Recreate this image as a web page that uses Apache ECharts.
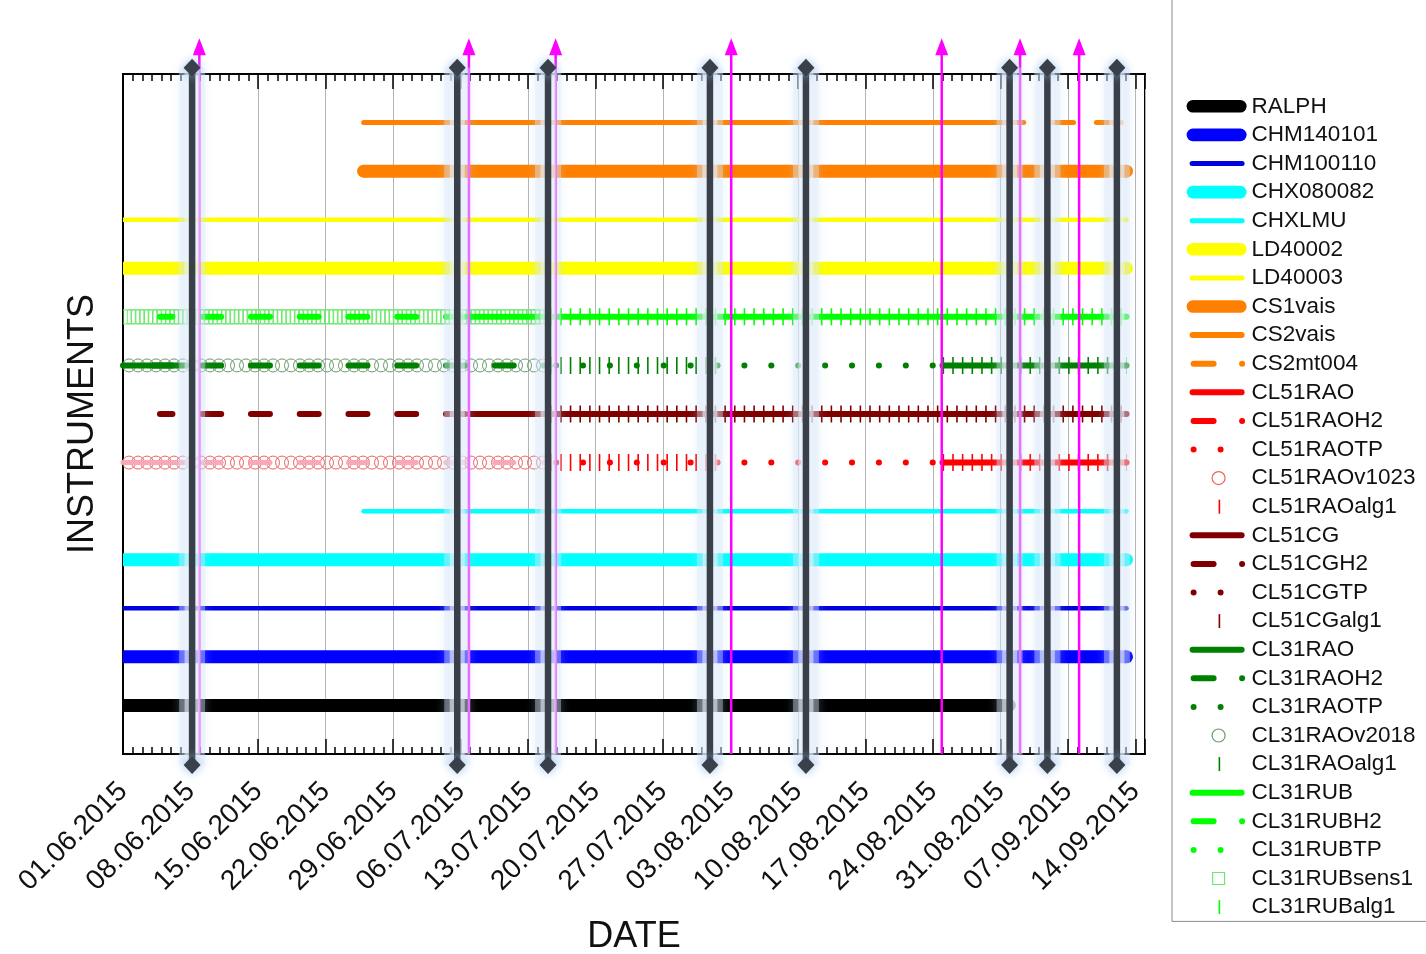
<!DOCTYPE html>
<html>
<head>
<meta charset="utf-8">
<script src="https://cdn.jsdelivr.net/npm/echarts/dist/echarts.min.js"></script>
<style>html,body{margin:0;padding:0;background:#fff}#c{width:1426px;height:954px}</style>
</head>
<body>
<div id="c"></div>
<script>
// ---------------- DATA ----------------
const xMinDate = '2015-06-01 00:00';
const xMaxDate = '2015-09-15 00:00';
const tickLabels = ['01.06.2015','08.06.2015','15.06.2015','22.06.2015','29.06.2015','06.07.2015','13.07.2015',
  '20.07.2015','27.07.2015','03.08.2015','10.08.2015','17.08.2015','24.08.2015','31.08.2015','07.09.2015','14.09.2015'];
// instrument rows, bottom to top
const rows = ['RALPH','CHM140101','CHM100110','CHX080082','CHXLMU','CL51RAO','CL51CG','CL31RAO','CL31RUB',
  'LD40002','LD40003','CS1vais','CS2vais'];
const legendNames = ['RALPH','CHM140101','CHM100110','CHX080082','CHXLMU','LD40002','LD40003','CS1vais','CS2vais',
  'CS2mt004','CL51RAO','CL51RAOH2','CL51RAOTP','CL51RAOv1023','CL51RAOalg1','CL51CG','CL51CGH2','CL51CGTP',
  'CL51CGalg1','CL31RAO','CL31RAOH2','CL31RAOTP','CL31RAOv2018','CL31RAOalg1','CL31RUB','CL31RUBH2','CL31RUBTP',
  'CL31RUBsens1','CL31RUBalg1'];

// availability periods [start, end]
const pRALPH        = [['2015-06-01 00:00','2015-08-31 22:00']];
const pCHM140101    = [['2015-06-01 00:00','2015-09-13 02:00']];
const pCHM100110    = [['2015-06-01 00:00','2015-09-13 02:00']];
const pCHX080082    = [['2015-06-01 00:00','2015-09-13 02:00']];
const pCHXLMU       = [['2015-06-25 23:00','2015-09-13 02:00']];
const pLD40002      = [['2015-06-01 00:00','2015-09-13 02:00']];
const pLD40003      = [['2015-06-01 00:00','2015-09-13 02:00']];
const pCS1vais      = [['2015-06-25 23:00','2015-09-13 02:00']];
const pCS2vais      = [['2015-06-25 23:00','2015-09-02 10:00']];
const pCS2mt004     = [['2015-09-05 10:00','2015-09-07 14:00'],['2015-09-09 23:00','2015-09-12 13:00']];
const pCL51RAO      = [['2015-08-25 00:00','2015-09-13 02:00']];
const pCL51RAOH2a   = [['2015-06-01 00:00','2015-06-07 14:00']];
const pCL51RAOH2    = [['2015-06-01 00:00','2015-07-15 06:00']];
const pCL51RAOTP    = [['2015-07-15 22:00','2015-08-25 00:00']];
const pCL51RAOv1023 = [['2015-06-01 00:00','2015-07-15 06:00']];
const pCL51RAOalg1  = [['2015-07-15 08:00','2015-08-01 19:00'],['2015-08-25 00:00','2015-09-13 02:00']];
const pCL51CG       = [['2015-07-06 22:00','2015-09-13 02:00']];
const pCL51CGH2     = [['2015-06-04 20:00','2015-07-06 22:00']];
const pCL51CGTP     = [];
const pCL51CGalg1   = [['2015-07-15 08:00','2015-09-13 02:00']];
const pCL31RAO      = [['2015-06-01 00:00','2015-06-07 14:00'],['2015-08-25 00:00','2015-09-13 02:00']];
const pCL31RAOH2    = [['2015-06-01 00:00','2015-07-15 06:00']];
const pCL31RAOTP    = [['2015-07-15 22:00','2015-08-25 00:00']];
const pCL31RAOv2018 = [['2015-06-01 00:00','2015-07-15 06:00']];
const pCL31RAOalg1  = [['2015-07-15 08:00','2015-08-01 19:00'],['2015-08-25 00:00','2015-09-13 02:00']];
const pCL31RUB      = [['2015-07-06 22:00','2015-09-13 02:00']];
const pCL31RUBH2    = [['2015-06-04 20:00','2015-07-06 22:00']];
const pCL31RUBTP    = [];
const pCL31RUBsens1 = [['2015-06-01 00:00','2015-07-15 06:00']];
const pCL31RUBalg1  = [['2015-07-15 08:00','2015-09-13 02:00']];

// event markers
const eventDates = ['2015-06-08 04:00','2015-07-05 16:00','2015-07-15 02:00','2015-07-31 21:00',
  '2015-08-10 20:00','2015-08-31 23:00','2015-09-04 21:00','2015-09-12 02:00'];
const arrowDates = ['2015-06-08 22:00','2015-07-06 21:00','2015-07-15 21:00','2015-08-03 02:00',
  '2015-08-24 22:00','2015-09-02 01:00','2015-09-08 04:00'];

// ---------------- HELPERS ----------------
const FONT = "'Liberation Sans', Arial, Helvetica, sans-serif";
const BASE = Date.parse(xMinDate.replace(' ', 'T') + ':00Z');
const toDay = s => (Date.parse(s.replace(' ', 'T') + ':00Z') - BASE) / 864e5;
const rowOf = n => rows.indexOf(n) + 1;
const Y_MAX = rows.length + 1;

const C = {
  black:'#000000', blue:'#0000ff', blue2:'#0000e0', cyan:'#00ffff', yellow:'#ffff00', orange:'#ff8000',
  red:'#ff0000', dred:'#800000', green:'#008000', lime:'#00ff00', pink:'#f7a9ba',
  cRed:'#ee6262', cGreen:'#6a9a6a', sGreen:'#6ee86e'
};
const THICK = 13, THIN = 4.5, MID = 6;

const S = [];
function addLine(name, periods, rowName, ls) {
  const r = rowOf(rowName);
  if (!periods.length) { S.push({type:'line', name, data:[], color: ls.color, silent:true}); return; }
  const isSolid = ls.type === 'solid';
  periods.forEach(p => S.push({
    type:'line', name, silent:true, animation:false, z:2, color: ls.color,
    data:[[toDay(p[0]), r], [toDay(p[1]), r]],
    // solid bars: flat at the plot frame, rounded at free ends
    showSymbol: isSolid,
    symbol: isSolid ? ((v, prm) => (prm.dataIndex === 0 && v[0] <= 0) ? 'none' : 'circle') : 'none',
    symbolSize: ls.width,
    itemStyle:{color: ls.color, borderWidth:0},
    lineStyle: Object.assign({cap: isSolid ? 'butt' : 'round', join:'round'}, ls),
    emphasis:{disabled:true}
  }));
}
function addPattern(name, periods, rowName, kind, color) {
  const r = rowOf(rowName);
  S.push({
    type:'custom', name, silent:true, animation:false, z:2, clip:true, color,
    data: periods.map(p => [toDay(p[0]), toDay(p[1]), r]),
    encode:{x:[0,1], y:2},
    renderItem: function (params, api) {
      const a = api.coord([api.value(0), api.value(2)]);
      const b = api.coord([api.value(1), api.value(2)]);
      const ch = [];
      if (kind === 'circle') {
        for (let x = a[0] + 6; x <= b[0] - 2; x += 9)
          ch.push({type:'circle', shape:{cx:x, cy:a[1], r:6.5}, style:{fill:'none', stroke:color, lineWidth:1}});
      } else {
        for (let x = a[0]; x <= b[0] - 8; x += 4.3)
          ch.push({type:'rect', shape:{x:x, y:a[1]-7, width:8, height:14}, style:{fill:'none', stroke:color, lineWidth:1}});
      }
      return {type:'group', children:ch};
    }
  });
}
const solid = (c, w) => ({color:c, width:w, type:'solid'});
const dashH2 = (c, w, off) => ({color:c, width:w, type:[19, 29.75], dashOffset:off});
const dotTP = c => ({color:c, width:6, type:[0.1, 26.8], dashOffset:0});
const bars = c => ({color:c, width:17, type:[1.6, 8.06], cap:'butt'});

// ---------------- SERIES ----------------
addLine('RALPH', pRALPH, 'RALPH', solid(C.black, THICK));
addLine('CHM140101', pCHM140101, 'CHM140101', solid(C.blue, THICK));
addLine('CHM100110', pCHM100110, 'CHM100110', solid(C.blue2, THIN));
addLine('CHX080082', pCHX080082, 'CHX080082', solid(C.cyan, THICK));
addLine('CHXLMU', pCHXLMU, 'CHXLMU', solid(C.cyan, THIN));
addLine('LD40002', pLD40002, 'LD40002', solid(C.yellow, THICK));
addLine('LD40003', pLD40003, 'LD40003', solid(C.yellow, THIN));
addLine('CS1vais', pCS1vais, 'CS1vais', solid(C.orange, THICK));
addLine('CS2vais', pCS2vais, 'CS2vais', solid(C.orange, 5));
addLine('CS2mt004', pCS2mt004, 'CS2vais', solid(C.orange, 5));

// CL51RAO row
addPattern('CL51RAOv1023', pCL51RAOv1023, 'CL51RAO', 'circle', C.cRed);
addLine('CL51RAOH2', pCL51RAOH2a, 'CL51RAO', solid(C.pink, 5));
addLine('CL51RAOH2', pCL51RAOH2, 'CL51RAO', dashH2(C.pink, 5, 18.25));
addLine('CL51RAO', pCL51RAO, 'CL51RAO', solid(C.red, MID));
addLine('CL51RAOalg1', pCL51RAOalg1, 'CL51RAO', bars(C.red));
addLine('CL51RAOTP', pCL51RAOTP, 'CL51RAO', dotTP(C.red));

// CL51CG row
addLine('CL51CGH2', pCL51CGH2, 'CL51CG', dashH2(C.dred, MID, 6.5));
addLine('CL51CG', pCL51CG, 'CL51CG', solid(C.dred, MID));
addLine('CL51CGalg1', pCL51CGalg1, 'CL51CG', bars(C.dred));
addLine('CL51CGTP', pCL51CGTP, 'CL51CG', dotTP(C.dred));

// CL31RAO row
addPattern('CL31RAOv2018', pCL31RAOv2018, 'CL31RAO', 'circle', C.cGreen);
addLine('CL31RAOH2', pCL31RAOH2, 'CL31RAO', dashH2(C.green, MID, 18.25));
addLine('CL31RAO', pCL31RAO, 'CL31RAO', solid(C.green, MID));
addLine('CL31RAOalg1', pCL31RAOalg1, 'CL31RAO', bars(C.green));
addLine('CL31RAOTP', pCL31RAOTP, 'CL31RAO', dotTP(C.green));

// CL31RUB row
addPattern('CL31RUBsens1', pCL31RUBsens1, 'CL31RUB', 'square', C.sGreen);
addLine('CL31RUBH2', pCL31RUBH2, 'CL31RUB', dashH2(C.lime, MID, 6.5));
addLine('CL31RUB', pCL31RUB, 'CL31RUB', solid(C.lime, MID));
addLine('CL31RUBalg1', pCL31RUBalg1, 'CL31RUB', bars(C.lime));
addLine('CL31RUBTP', pCL31RUBTP, 'CL31RUB', dotTP(C.lime));

// event lines (extend slightly beyond the plot frame)
const EVT_LO = -0.226, EVT_HI = Y_MAX + 0.13, ARROW_HI = Y_MAX + 0.56;
arrowDates.forEach(d => {
  const x = toDay(d);
  S.push({type:'line', silent:true, animation:false, clip:false, z:5, data:[[x, 0], [x, ARROW_HI]],
    showSymbol:true, symbol:(v, p) => p.dataIndex === 1 ? 'triangle' : 'none', symbolSize:[13, 17],
    itemStyle:{color:'#ff00ff', borderWidth:0}, lineStyle:{color:'#ff00ff', width:2.5}, emphasis:{disabled:true}});
});
eventDates.forEach(d => {
  const x = toDay(d);
  S.push({type:'line', silent:true, animation:false, clip:false, z:6, data:[[x, EVT_LO], [x, EVT_HI]],
    showSymbol:false, symbol:'none',
    lineStyle:{color:'rgba(222,234,250,0.38)', width:26, cap:'butt', shadowBlur:10, shadowColor:'rgba(185,212,245,0.7)'},
    emphasis:{disabled:true}});
  S.push({type:'line', silent:true, animation:false, clip:false, z:6, data:[[x, EVT_LO], [x, EVT_HI]],
    showSymbol:false, symbol:'none',
    lineStyle:{color:'rgba(236,243,252,0.55)', width:15, cap:'butt'},
    emphasis:{disabled:true}});
  S.push({type:'line', silent:true, animation:false, clip:false, z:7, data:[[x, EVT_LO], [x, EVT_HI]],
    showSymbol:true, symbol:'diamond', symbolSize:[17, 18],
    itemStyle:{color:'#3a4049', borderWidth:0, shadowBlur:10, shadowColor:'rgba(150,190,240,0.9)'},
    lineStyle:{color:'#3a4049', width:6.5, cap:'butt'}, emphasis:{disabled:true}});
});

// ---------------- LEGEND ICONS ----------------
const P = s => 'path://M0 0M60 14' + s;
const capsule = (x1, x2, h) => { const r = h / 2, y1 = 7 - r, y2 = 7 + r;
  return `M${x1 + r} ${y1}L${x2 - r} ${y1}A${r} ${r} 0 0 1 ${x2 - r} ${y2}L${x1 + r} ${y2}A${r} ${r} 0 0 1 ${x1 + r} ${y1}Z`; };
const dot = (cx, r) => `M${cx + r} 7A${r} ${r} 0 1 1 ${cx - r} 7A${r} ${r} 0 1 1 ${cx + r} 7Z`;
const fillI = (path, c) => ({icon: P(path), itemStyle:{color:c, borderWidth:0}});
const openI = (path, c) => ({icon: P(path), itemStyle:{color:'rgba(0,0,0,0)', borderColor:c, borderWidth:1.2}});
const iconSpec = {
  RALPH: fillI(capsule(0, 62, 13), C.black),
  CHM140101: fillI(capsule(0, 62, 13), C.blue),
  CHM100110: fillI(capsule(3, 58, 5), C.blue2),
  CHX080082: fillI(capsule(0, 62, 13), C.cyan),
  CHXLMU: fillI(capsule(3, 58, 5), C.cyan),
  LD40002: fillI(capsule(0, 62, 13), C.yellow),
  LD40003: fillI(capsule(3, 58, 5), C.yellow),
  CS1vais: fillI(capsule(0, 62, 13), C.orange),
  CS2vais: fillI(capsule(3, 58, 6), C.orange),
  CS2mt004: fillI(capsule(4, 30, 6) + dot(55.5, 3), C.orange),
  CL51RAO: fillI(capsule(3, 58, 6), C.red),
  CL51RAOH2: fillI(capsule(4, 30, 6) + dot(55.5, 3), C.red),
  CL51RAOTP: fillI(dot(7, 3) + dot(34, 3), C.red),
  CL51RAOv1023: openI(dot(32, 6.5), C.cRed),
  CL51RAOalg1: fillI('M32 0H33.6V14H32Z', C.red),
  CL51CG: fillI(capsule(3, 58, 6), C.dred),
  CL51CGH2: fillI(capsule(4, 30, 6) + dot(55.5, 3), C.dred),
  CL51CGTP: fillI(dot(7, 3) + dot(34, 3), C.dred),
  CL51CGalg1: fillI('M32 0H33.6V14H32Z', C.dred),
  CL31RAO: fillI(capsule(3, 58, 6), C.green),
  CL31RAOH2: fillI(capsule(4, 30, 6) + dot(55.5, 3), C.green),
  CL31RAOTP: fillI(dot(7, 3) + dot(34, 3), C.green),
  CL31RAOv2018: openI(dot(32, 6.5), C.cGreen),
  CL31RAOalg1: fillI('M32 0H33.6V14H32Z', C.green),
  CL31RUB: fillI(capsule(3, 58, 6), C.lime),
  CL31RUBH2: fillI(capsule(4, 30, 6) + dot(55.5, 3), C.lime),
  CL31RUBTP: fillI(dot(7, 3) + dot(34, 3), C.lime),
  CL31RUBsens1: openI('M26 1H38V13H26Z', C.sGreen),
  CL31RUBalg1: fillI('M32 0H33.6V14H32Z', C.lime)
};
const legendItems = legendNames.map(n => Object.assign({name:n}, iconSpec[n]));

// ---------------- AXES ----------------
const X_MAX = toDay(xMaxDate);
const tickStyle = {color:'#000', width:1.5};
const option = {
  animation:false,
  backgroundColor:'#ffffff',
  textStyle:{fontFamily:FONT},
  grid:{left:123, right:281, top:74, bottom:200, show:true, borderColor:'#000', borderWidth:2,
    backgroundColor:'rgba(0,0,0,0)', containLabel:false, outerBoundsMode:'none'},
  legend:{orient:'vertical', left:1172, top:-12, padding:[104, 40, 0, 14], itemGap:0, itemWidth:60, itemHeight:14,
    borderColor:'#8a8a8a', borderWidth:1, selectedMode:false, itemStyle:{borderWidth:0},
    textStyle:{fontFamily:FONT, fontSize:22.5, color:'#111', lineHeight:28.6}, data:legendItems},
  xAxis:[
    {type:'value', min:0, max:X_MAX, interval:7, position:'bottom',
      name:'DATE', nameLocation:'middle', nameGap:165, nameTextStyle:{fontFamily:FONT, fontSize:36, color:'#111'},
      axisLine:{show:true, onZero:false, lineStyle:{color:'#000', width:2}},
      axisTick:{show:true, inside:true, length:15, lineStyle:tickStyle},
      splitLine:{show:true, lineStyle:{color:'#b4b4b4', width:1}},
      axisLabel:{show:true, rotate:45, margin:33, fontFamily:FONT, fontSize:28, color:'#111', hideOverlap:false,
        formatter: v => (Math.abs(v % 7) < 1e-6 && tickLabels[v / 7]) ? tickLabels[v / 7] : ''}},
    {type:'value', min:0, max:X_MAX, interval:7, position:'top',
      axisLine:{show:true, onZero:false, lineStyle:{color:'#000', width:2}},
      axisTick:{show:true, inside:true, length:15, lineStyle:tickStyle},
      splitLine:{show:false}, axisLabel:{show:false}},
    {type:'value', min:0, max:X_MAX, interval:1, position:'bottom',
      axisLine:{show:false, onZero:false}, axisTick:{show:true, inside:true, length:7, lineStyle:tickStyle},
      splitLine:{show:false}, axisLabel:{show:false}},
    {type:'value', min:0, max:X_MAX, interval:1, position:'top',
      axisLine:{show:false, onZero:false}, axisTick:{show:true, inside:true, length:7, lineStyle:tickStyle},
      splitLine:{show:false}, axisLabel:{show:false}}
  ],
  yAxis:[{type:'value', min:0, max:Y_MAX, interval:1,
    name:'INSTRUMENTS', nameLocation:'middle', nameGap:22,
    nameTextStyle:{fontFamily:FONT, fontSize:36, color:'#111', padding:[0, 20, 0, 0]},
    axisLine:{show:true, onZero:false, lineStyle:{color:'#000', width:2}},
    axisTick:{show:false}, axisLabel:{show:false}, splitLine:{show:false}}],
  series:S
};
const chart = echarts.init(document.getElementById('c'), null, {renderer:'canvas'});
chart.setOption(option);
</script>
</body>
</html>
